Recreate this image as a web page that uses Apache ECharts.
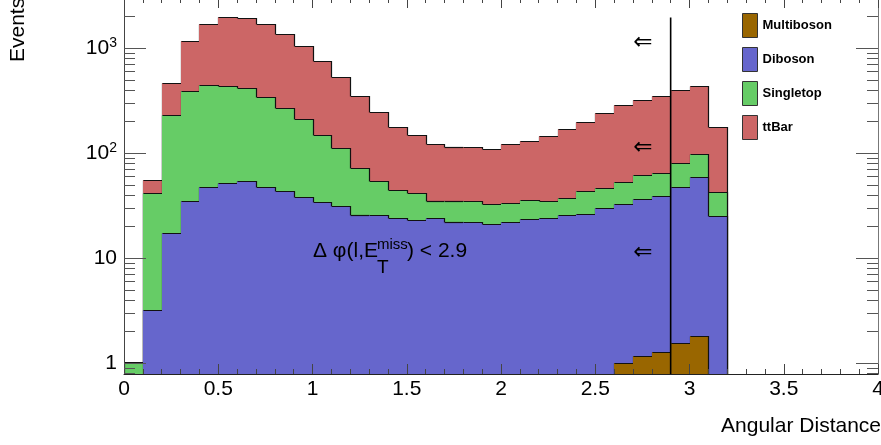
<!DOCTYPE html>
<html><head><meta charset="utf-8">
<script src="https://cdn.jsdelivr.net/npm/echarts@6/dist/echarts.min.js"></script>
<style>html,body{margin:0;padding:0;background:#fff;overflow:hidden}#c{width:881px;height:445px}</style>
</head><body><div id="c"></div>
<script>
// ---- data ----
const binLowEdges = [0.0,0.1,0.2,0.3,0.4,0.5,0.6,0.7,0.8,0.9,1.0,1.1,1.2,1.3,1.4,1.5,1.6,1.7,1.8,1.9,2.0,2.1,2.2,2.3,2.4,2.5,2.6,2.7,2.8,2.9,3.0,3.1];
const binWidth = 0.1;
const seriesNames = ['Multiboson','Diboson','Singletop','ttBar'];
const multiboson = [0,0,0,0,0,0,0,0,0,0,0,0,0,0,0,0,0,0,0,0,0,0,0,0,0,0,1.0,1.17,1.28,1.54,1.82,0];
const diboson = [0,3.2,17.2,35.0,47.9,52.3,54.7,47.9,43.6,38.2,34.3,31.4,25.6,25.6,23.9,23.2,24.1,22.1,22.2,21.3,22.1,23.6,23.9,25.8,26.5,30.2,31.6,35.4,37.5,45.8,57.5,25.2];
const singletop = [1.02,38.3,214.1,356.7,399.0,387.7,360.9,293.2,224.3,172.3,115.8,80.7,47.1,29.1,20.4,18.8,10.9,13.2,12.6,11.3,11.2,12.4,11.4,11.6,16.8,16.7,20.9,25.4,25.5,32.8,38.3,17.2];
const ttBar = [0,13.7,232.5,764,1258,1517,1529,1352,1100,826,601.5,423.9,278.3,194.0,134.6,108.1,86.6,80.0,79.0,77.1,89.9,95.6,110.6,132.7,155.1,194.7,232.7,261.6,284.4,317.7,332.9,135.3];
const xTickValues = [0,0.5,1,1.5,2,2.5,3,3.5,4];
const yMajorTicks = [1,10,100,1000];
const yMinorTicks = [0.8,0.9,2,3,4,5,6,7,8,9,20,30,40,50,60,70,80,90,200,300,400,500,600,700,800,900,2000];
const cutValue = 2.9;
const cutLineTop = 1957;

// ---- styles ----
const colors = {Multiboson:'#996600', Diboson:'#6666cc', Singletop:'#66cc66', ttBar:'#cc6666'};
const FONT = 'Liberation Sans';
const xMin = 0, xMax = 4, yMin = 0.785, yMax = 3000;

const layers = [multiboson, diboson, singletop, ttBar];
const lower = [], upper = [];
layers.forEach((arr, k) => {
  lower[k] = arr.map((v, i) => k === 0 ? 0 : upper[k-1][i]);
  upper[k] = arr.map((v, i) => lower[k][i] + v);
});
const clampV = v => (v > yMin ? v : yMin);

function histRender(k) {
  const name = seriesNames[k];
  return function (params, api) {
    const i = params.dataIndex;
    const x0 = binLowEdges[i], x1 = x0 + binWidth;
    const lo = clampV(lower[k][i]), hi = clampV(upper[k][i]);
    const children = [];
    if (layers[k][i] > 0 && hi > lo) {
      const a = api.coord([x0, hi]), b = api.coord([x1, lo]);
      const ax = Math.round(a[0]), bx = Math.round(b[0]);
      const ay = Math.round(a[1]), by = Math.round(b[1]);
      children.push({type:'rect', shape:{x:ax, y:ay, width:bx-ax, height:by-ay}, style:{fill:colors[name]}});
    }
    const next = i + 1 < binLowEdges.length ? clampV(upper[k][i+1]) : yMin;
    const r = p => [Math.round(p[0]) + 0.5, Math.round(p[1]) + 0.5];
    const pts = [];
    if (i === 0) pts.push(r(api.coord([x0, yMin])));
    pts.push(r(api.coord([x0, hi])), r(api.coord([x1, hi])), r(api.coord([x1, next])));
    if (hi > yMin || next > yMin) {
      children.push({type:'polyline', shape:{points:pts}, style:{stroke:'#111', lineWidth:1.2, fill:null}});
    }
    return {type:'group', children};
  };
}

const series = seriesNames.map((name, k) => ({
  name, type:'custom', coordinateSystem:'cartesian2d', z: 10 - k,
  itemStyle:{color: colors[name], borderColor:'#333', borderWidth:1},
  renderItem: histRender(k),
  encode:{x:0, y:1},
  data: binLowEdges.map((x, i) => [x, clampV(upper[k][i])]),
  clip: true,
  silent: true
}));

// y ticks (ROOT-style minor ticks at 2..9 per decade, both sides)
series.push({
  name:'yticks', type:'custom', coordinateSystem:'cartesian2d', z: 30, silent:true,
  encode:{x:0, y:1},
  data: yMajorTicks.map(v => [xMin, v, 1]).concat(yMinorTicks.map(v => [xMin, v, 0])),
  renderItem: function (params, api) {
    const v = api.value(1), major = api.value(2) === 1;
    const len = major ? 22 : 11;
    const L = api.coord([xMin, v]), R = api.coord([xMax, v]);
    const y = Math.round(L[1]) + 0.5;
    return {type:'group', children:[
      {type:'line', shape:{x1:L[0], y1:y, x2:L[0]+len, y2:y}, style:{stroke:'#555', lineWidth:1}},
      {type:'line', shape:{x1:R[0], y1:y, x2:R[0]-len, y2:y}, style:{stroke:'#555', lineWidth:1}}
    ]};
  }
});
// cut line
series.push({
  name:'cut', type:'custom', coordinateSystem:'cartesian2d', z: 25, silent:true,
  encode:{x:0, y:1},
  data: [[cutValue, cutLineTop]],
  renderItem: function (params, api) {
    const a = api.coord([cutValue, cutLineTop]), b = api.coord([cutValue, yMin]);
    return {type:'line', shape:{x1:a[0], y1:a[1], x2:b[0], y2:b[1]}, style:{stroke:'#000', lineWidth:1.6}};
  }
});

const xAxisCommon = {
  type:'value', min:xMin, max:xMax, interval:0.5, z: 20,
  splitLine:{show:false},
  axisTick:{show:true, inside:true, length:10, lineStyle:{color:'#444'}},
  minorTick:{show:true, splitNumber:5, length:5, lineStyle:{color:'#444'}},
};

const chart = echarts.init(document.getElementById('c'), null, {renderer:'canvas'});
chart.setOption({
  animation:false,
  backgroundColor:'#fff',
  grid:{left:124, right:3, top:-2, bottom:71, containLabel:false, outerBoundsMode:'none'},
  legend:{
    data: seriesNames, orient:'vertical', left:737, top:8,
    itemWidth:15, itemHeight:24, itemGap:9, icon:'rect',
    itemStyle:{borderColor:'#333', borderWidth:1},
    textStyle:{fontFamily:FONT, fontWeight:'bold', fontSize:13, color:'#000'},
    selectedMode:false
  },
  xAxis:[
    Object.assign({}, xAxisCommon, {position:'bottom',
      axisLine:{show:true, onZero:false, lineStyle:{color:'#222', width:1}},
      axisLabel:{show:true, margin:5, fontFamily:FONT, fontSize:21, color:'#000',
        hideOverlap:false,
        formatter: v => (xTickValues.indexOf(v) >= 0 ? String(v) : '')}}),
    Object.assign({}, xAxisCommon, {position:'top',
      axisLine:{show:true, onZero:false, lineStyle:{color:'#222', width:1}},
      axisLabel:{show:false}})
  ],
  yAxis:[
    {type:'log', logBase:10, min:yMin, max:yMax, position:'left', z:20,
     splitLine:{show:false}, axisTick:{show:false}, minorTick:{show:false},
     axisLine:{show:true, onZero:false, lineStyle:{color:'#444', width:1}},
     axisLabel:{show:true, margin:7, fontFamily:FONT, fontSize:21, color:'#000',
       showMinLabel:false, showMaxLabel:false,
       formatter: function (v) {
         const lg = Math.log10(v), e = Math.round(lg);
         if (Math.abs(lg - e) > 1e-6) return '';
         if (e === 0) return '1';
         if (e === 1) return '10';
         return '10{sup|' + e + '}';
       },
       rich:{sup:{fontFamily:FONT, fontSize:14, color:'#000', padding:[0,0,10,0]}}
     }},
    {type:'log', logBase:10, min:yMin, max:yMax, position:'right', z:20,
     splitLine:{show:false}, axisTick:{show:false}, axisLabel:{show:false},
     axisLine:{show:true, onZero:false, lineStyle:{color:'#777', width:1}}}
  ],
  series: series,
  graphic:[
    {type:'text', x:18, y:62, rotation:Math.PI/2, z:50,
     style:{text:'Events', fontFamily:FONT, fontSize:21, fill:'#000', align:'left', verticalAlign:'middle'}},
    {type:'text', x:881, y:426, z:50,
     style:{text:'Angular Distance', fontFamily:FONT, fontSize:21, fill:'#000', align:'right', verticalAlign:'middle'}},
    {type:'text', x:313, y:251, z:50,
     style:{text:'\u0394 \u03c6(l,E', fontFamily:FONT, fontSize:21, fill:'#000', align:'left', verticalAlign:'middle'}},
    {type:'text', x:377, y:245, z:50,
     style:{text:'miss', fontFamily:FONT, fontSize:15, fill:'#000', align:'left', verticalAlign:'middle'}},
    {type:'text', x:377, y:268, z:50,
     style:{text:'T', fontFamily:FONT, fontSize:19, fill:'#000', align:'left', verticalAlign:'middle'}},
    {type:'text', x:407, y:251, z:50,
     style:{text:') < 2.9', fontFamily:FONT, fontSize:21, fill:'#000', align:'left', verticalAlign:'middle'}},
    {type:'text', x:643, y:43, z:50,
     style:{text:'\u21d0', fontFamily:'DejaVu Sans', fontSize:23, fill:'#000', align:'center', verticalAlign:'middle'}},
    {type:'text', x:643, y:148, z:50,
     style:{text:'\u21d0', fontFamily:'DejaVu Sans', fontSize:23, fill:'#000', align:'center', verticalAlign:'middle'}},
    {type:'text', x:643, y:253, z:50,
     style:{text:'\u21d0', fontFamily:'DejaVu Sans', fontSize:23, fill:'#000', align:'center', verticalAlign:'middle'}}
  ]
});
</script>
</body></html>
